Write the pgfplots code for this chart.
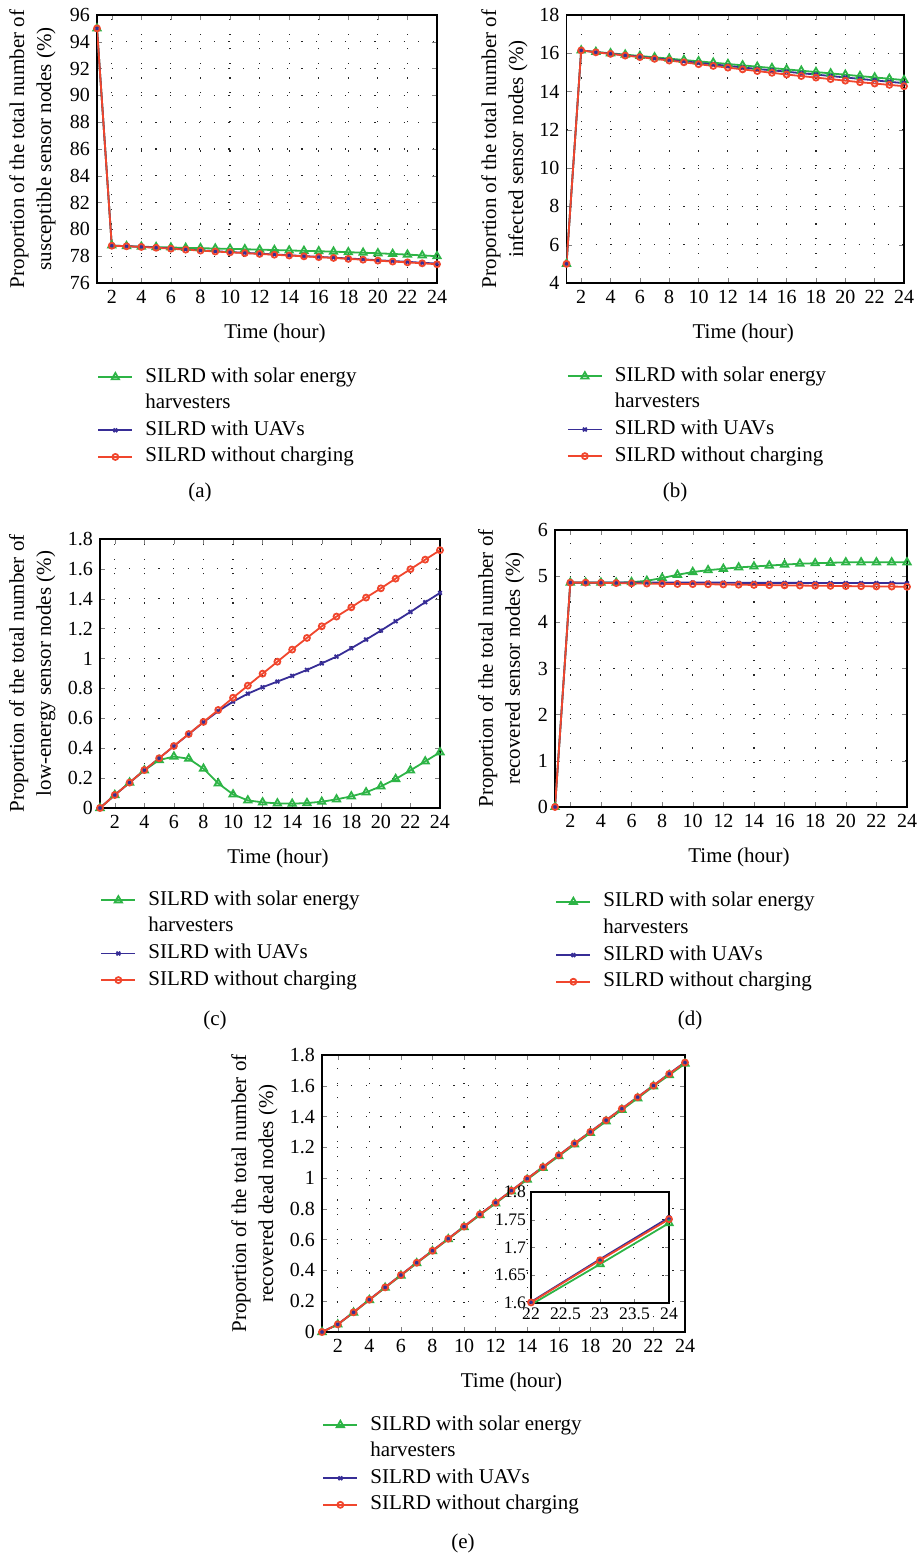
\documentclass[border=0pt]{standalone}
\usepackage{fontspec}
\setmainfont{Liberation Serif}
\usepackage{pgfplots}
\usepackage{pgfplotstable}
\pgfplotsset{compat=1.18}

\definecolor{cg}{RGB}{45,180,70}
\definecolor{cb}{RGB}{55,45,150}
\definecolor{cr}{RGB}{240,70,45}

% (a) susceptible
\pgfplotstableread{
x g b r
1 95 95 95
2 78.80 78.79 78.78
3 78.75 78.75 78.74
4 78.71 78.70 78.69
5 78.68 78.65 78.63
6 78.65 78.58 78.56
7 78.62 78.51 78.49
8 78.60 78.44 78.42
9 78.57 78.37 78.35
10 78.55 78.31 78.29
11 78.52 78.25 78.23
12 78.49 78.19 78.17
13 78.46 78.13 78.11
14 78.43 78.07 78.05
15 78.40 78.01 77.99
16 78.37 77.95 77.93
17 78.34 77.89 77.87
18 78.30 77.83 77.80
19 78.26 77.77 77.74
20 78.22 77.70 77.67
21 78.17 77.64 77.60
22 78.12 77.58 77.54
23 78.06 77.51 77.47
24 78.00 77.45 77.40
}\ta

% (b) infected
\pgfplotstableread{
x g b r
1 5.0 5.0 5.0
2 16.15 16.15 16.15
3 16.07 16.06 16.05
4 16.00 15.98 15.97
5 15.93 15.90 15.88
6 15.86 15.82 15.80
7 15.79 15.74 15.71
8 15.72 15.66 15.62
9 15.65 15.58 15.53
10 15.58 15.50 15.43
11 15.51 15.42 15.34
12 15.44 15.34 15.25
13 15.37 15.26 15.16
14 15.30 15.18 15.07
15 15.23 15.11 14.98
16 15.16 15.04 14.89
17 15.09 14.96 14.81
18 15.02 14.89 14.73
19 14.95 14.81 14.65
20 14.88 14.74 14.57
21 14.81 14.66 14.49
22 14.74 14.59 14.42
23 14.67 14.51 14.35
24 14.60 14.44 14.28
}\tb

% (c) low-energy
\pgfplotstableread{
x g b r
1 0 0 0
2 0.087 0.087 0.087
3 0.170 0.170 0.170
4 0.252 0.253 0.254
5 0.321 0.333 0.333
6 0.344 0.414 0.415
7 0.330 0.494 0.495
8 0.263 0.574 0.576
9 0.165 0.648 0.656
10 0.091 0.712 0.738
11 0.051 0.765 0.819
12 0.038 0.808 0.899
13 0.031 0.846 0.979
14 0.029 0.884 1.060
15 0.033 0.924 1.138
16 0.042 0.968 1.216
17 0.058 1.013 1.281
18 0.078 1.069 1.343
19 0.105 1.127 1.408
20 0.145 1.187 1.470
21 0.194 1.250 1.535
22 0.252 1.312 1.598
23 0.312 1.377 1.662
24 0.373 1.439 1.725
}\tc

% (d) recovered
\pgfplotstableread{
x g b r
1 0 0 0
2 4.86 4.86 4.86
3 4.86 4.86 4.86
4 4.86 4.86 4.855
5 4.86 4.86 4.85
6 4.87 4.86 4.845
7 4.90 4.86 4.84
8 4.96 4.86 4.835
9 5.03 4.86 4.83
10 5.09 4.86 4.828
11 5.13 4.86 4.825
12 5.16 4.86 4.82
13 5.19 4.855 4.815
14 5.21 4.855 4.81
15 5.23 4.855 4.805
16 5.25 4.855 4.80
17 5.27 4.855 4.797
18 5.28 4.85 4.793
19 5.29 4.85 4.79
20 5.30 4.85 4.785
21 5.30 4.85 4.782
22 5.30 4.85 4.778
23 5.30 4.85 4.775
24 5.30 4.845 4.77
}\td

% (e) recovered dead
\pgfplotstableread{
x g b r
1 0 0 0
2 0.049 0.050 0.050
3 0.126 0.129 0.128
4 0.208 0.211 0.210
5 0.288 0.291 0.290
6 0.367 0.371 0.370
7 0.447 0.451 0.450
8 0.525 0.529 0.528
9 0.603 0.607 0.606
10 0.682 0.686 0.685
11 0.760 0.765 0.764
12 0.836 0.841 0.840
13 0.914 0.919 0.918
14 0.991 0.997 0.996
15 1.067 1.073 1.072
16 1.143 1.149 1.148
17 1.219 1.226 1.225
18 1.294 1.301 1.300
19 1.369 1.377 1.376
20 1.444 1.452 1.451
21 1.519 1.527 1.526
22 1.597 1.602 1.601
23 1.670 1.679 1.677
24 1.744 1.754 1.751
}\te

\pgfplotsset{
  dotgrid/.style={
    grid=major,
    major grid style={black!85, line width=0.55pt, dash pattern=on 0.6pt off 6.7pt},
  },
  panel/.style={
    scale only axis, xmin=1, xmax=24, xtick={2,4,...,24},
    tick align=inside, major tick length=2.5pt,
    ticklabel style={font=\fontsize{10}{12}\selectfont},
    /pgf/number format/assume math mode=true,
    dotgrid,
    axis line style={line width=0.6pt},
    xlabel={Time (hour)},
    label style={font=\fontsize{10.5}{13.5}\selectfont},
    xlabel style={at={(axis description cs:0.5,0)}, anchor=center, yshift=-25pt, xshift=4pt},
    ylabel style={align=center, anchor=center},
    legend style={draw=none, fill=none, anchor=north west, inner sep=0pt,
      font=\fontsize{10.5}{13.5}\selectfont, cells={anchor=west},
      nodes={inner sep=1pt, text height=7.5pt, text depth=2.5pt},
      row sep=1.3pt, column sep=5pt},
  },
  sg/.style={color=cg, line width=0.9pt, mark=triangle, mark size=2.1pt, mark options={solid}},
  sb/.style={color=cb, line width=0.9pt, mark=x, mark size=1.3pt, mark options={solid}},
  sr/.style={color=cr, line width=0.9pt, mark=o, mark size=1.5pt, mark options={solid}},
}

\newcommand{\threeplots}[1]{%
  \addplot[sg] table[x=x, y=g] {#1};
  \addlegendentry{SILRD with solar energy}
  \addlegendimage{empty legend}
  \addlegendentry{harvesters}
  \addplot[sb] table[x=x, y=b] {#1};
  \addlegendentry{SILRD with UAVs}
  \addplot[sr] table[x=x, y=r] {#1};
  \addlegendentry{SILRD without charging}
}

\begin{document}
\begin{tikzpicture}[font=\fontsize{10.5}{13.5}\selectfont]
\path[use as bounding box] (0,0) rectangle (460.5pt,-778.5pt);

% (a)
\begin{axis}[panel, at={(48.5pt,-7.5pt)}, anchor=north west,
  width=170pt, height=134pt, ymin=76, ymax=96, ytick={76,78,...,96},
  ylabel={Proportion of the total number of\\susceptible sensor nodes (\%)},
  ylabel style={at={(axis description cs:-0.19,0.5)}},
  legend style={at={(0,-0.305)}}]
\threeplots{\ta}
\end{axis}

% (b)
\begin{axis}[panel, at={(283.25pt,-7.5pt)}, anchor=north west,
  width=168.75pt, height=134pt, ymin=4, ymax=18, ytick={4,6,...,18},
  ylabel={Proportion of the total number of\\infected sensor nodes (\%)},
  ylabel style={at={(axis description cs:-0.184,0.5)}},
  legend style={at={(0,-0.302)}}]
\threeplots{\tb}
\end{axis}

% (c)
\begin{axis}[panel, at={(50pt,-269.5pt)}, anchor=north west,
  width=170pt, height=134.5pt, ymin=0, ymax=1.8, ytick={0,0.2,...,1.8},
  ylabel={Proportion of the total number of\\low-energy sensor nodes (\%)},
  ylabel style={at={(axis description cs:-0.199,0.5)}},
  legend style={at={(0,-0.297)}}]
\threeplots{\tc}
\end{axis}

% (d)
\begin{axis}[panel, at={(277.5pt,-265pt)}, anchor=north west,
  width=176pt, height=138.5pt, ymin=0, ymax=6, ytick={0,1,...,6},
  ylabel={Proportion of the total number of\\recovered sensor nodes (\%)},
  ylabel style={at={(axis description cs:-0.153,0.5)}},
  legend style={at={(0,-0.298)}}]
\threeplots{\td}
\end{axis}

% (e)
\begin{axis}[panel, at={(161pt,-527.5pt)}, anchor=north west,
  width=181.5pt, height=138.5pt, ymin=0, ymax=1.8, ytick={0,0.2,...,1.8},
  ylabel={Proportion of the total number of\\recovered dead nodes (\%)},
  ylabel style={at={(axis description cs:-0.186,0.5)}},
  legend style={at={(0,-0.291)}}]
\threeplots{\te}
\end{axis}

% inset of (e)
\begin{axis}[scale only axis, at={(265.5pt,-596pt)}, anchor=north west,
  width=69pt, height=55.5pt, xmin=22, xmax=24, ymin=1.6, ymax=1.8,
  xtick={22,22.5,23,23.5,24}, ytick={1.6,1.65,1.7,1.75,1.8},
  tick align=inside, major tick length=2pt,
  ticklabel style={font=\fontsize{8.8}{10}\selectfont},
  /pgf/number format/assume math mode=true,
  /pgf/number format/fixed,
  dotgrid, axis line style={line width=0.6pt},
  xticklabel style={yshift=1pt}, yticklabel style={xshift=1pt},
  axis background/.style={fill=white}]
\addplot[sg] table[x=x, y=g] {\te};
\addplot[sb] table[x=x, y=b] {\te};
\addplot[sr] table[x=x, y=r] {\te};
\end{axis}

\node at (100pt,-246pt) {(a)};
\node at (337.5pt,-246pt) {(b)};
\node at (107.5pt,-510pt) {(c)};
\node at (345pt,-510pt) {(d)};
\node at (231.5pt,-771.5pt) {(e)};
\end{tikzpicture}
\end{document}
